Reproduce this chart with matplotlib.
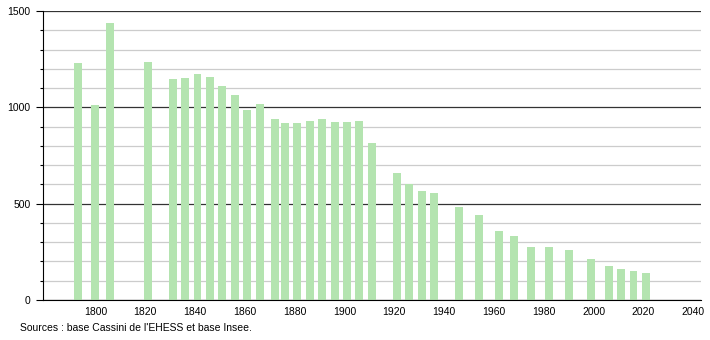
import numpy as np
import matplotlib.pyplot as plt
from matplotlib.ticker import MultipleLocator

plt.rcParams['font.family'] = ['Liberation Sans', 'DejaVu Sans']

years = [1793, 1800, 1806, 1821, 1831, 1836, 1841, 1846, 1851, 1856, 1861, 1866,
         1872, 1876, 1881, 1886, 1891, 1896, 1901, 1906, 1911, 1921, 1926, 1931,
         1936, 1946, 1954, 1962, 1968, 1975, 1982, 1990, 1999, 2006, 2011, 2016, 2021]
population = [1232, 1012, 1437, 1235, 1149, 1152, 1173, 1157, 1111, 1064, 986, 1017,
              938, 919, 919, 929, 939, 924, 924, 929, 813, 657, 602, 567,
              557, 484, 439, 358, 332, 275, 273, 260, 213, 176, 163, 152, 140]
xticks = list(range(1800, 2041, 20))
yticks = [0, 500, 1000, 1500]

fig = plt.figure(figsize=(7.1, 3.4), dpi=100)
ax = fig.add_axes([0.0606, 0.1176, 0.9264, 0.85])

ax.bar(years, population, width=3.2, color='#b4e4b0', zorder=3)

ax.set_xlim(1779, 2043)
ax.set_ylim(0, 1500)
ax.set_xticks(xticks)
ax.set_yticks(yticks)
ax.yaxis.set_minor_locator(MultipleLocator(100))
ax.grid(axis='y', which='minor', color='#cccccc', lw=0.9, zorder=1)
ax.grid(axis='y', which='major', color='#333333', lw=0.9, zorder=2)

for s in ['top', 'right']:
    ax.spines[s].set_visible(False)
ax.spines['left'].set_color('black')
ax.spines['bottom'].set_color('black')
ax.spines['bottom'].set_zorder(4)
ax.tick_params(axis='x', length=0, labelsize=7.5, pad=5)
ax.tick_params(axis='y', which='major', length=5, width=0.8, labelsize=7.5, pad=4)
ax.tick_params(axis='y', which='minor', length=2.5, width=0.8)

fig.text(0.028, 0.026, "Sources : base Cassini de l'EHESS et base Insee.", fontsize=7.5)

fig.savefig('out.png', dpi=100)
